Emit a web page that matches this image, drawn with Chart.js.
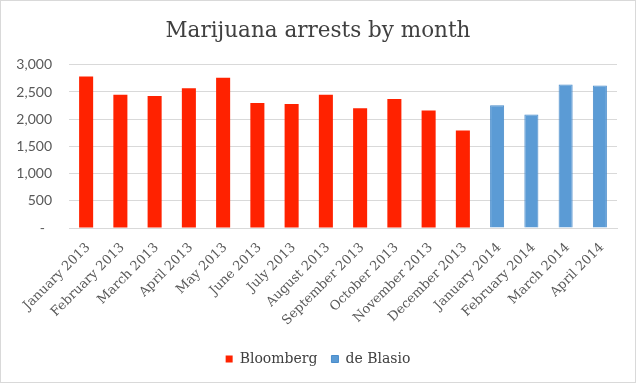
<!DOCTYPE html>
<html>
<head>
<meta charset="utf-8">
<script src="https://cdn.jsdelivr.net/npm/chart.js@4"></script>
<style>
	html, body { margin: 0; padding: 0; background: #fff; }
	#wrap { position: relative; width: 636px; height: 383px; }
	#frame { position: absolute; left: 0; top: 0; width: 636px; height: 383px; box-sizing: border-box; border: 1px solid #d9d9d9; pointer-events: none; }
</style>
</head>
<body>
<div id="wrap">
	<canvas id="arrests-chart"></canvas>
	<div id="frame"></div>
</div>
<script>
const months = [
	"January 2013", "February 2013", "March 2013", "April 2013", "May 2013", "June 2013",
	"July 2013", "August 2013", "September 2013", "October 2013", "November 2013", "December 2013",
	"January 2014", "February 2014", "March 2014", "April 2014",
];
const bloomberg = [2786, 2451, 2427, 2567, 2762, 2299, 2281, 2451, 2201, 2372, 2158, 1793, null, null, null, null];
const deBlasio = [null, null, null, null, null, null, null, null, null, null, null, null, 2256, 2085, 2640, 2621];
const yTicks = [0, 500, 1000, 1500, 2000, 2500, 3000];

const serif = "'DejaVu Serif', 'Liberation Serif', serif";
const greyText = "#595959";

Chart.defaults.font.family = serif;

const ctx = document.getElementById("arrests-chart");

const arrestsChart = new Chart(ctx, {
	type: "bar",
	data: {
		labels: months,
		datasets: [
			{
				label: "Bloomberg",
				data: bloomberg,
				backgroundColor: "#ff2200",
				borderColor: "#ff2200",
				borderWidth: 0,
				grouped: false,
				categoryPercentage: 1,
				barPercentage: 0.41,
			},
			{
				label: "de Blasio",
				data: deBlasio,
				backgroundColor: "#5b9bd5",
				borderColor: "#4a8ccb",
				borderWidth: 1,
				grouped: false,
				categoryPercentage: 1,
				barPercentage: 0.41,
			},
		],
	},
	options: {
		responsive: true,
		maintainAspectRatio: false,
		animation: false,
		layout: {
			padding: { left: 0, right: 0, top: 0, bottom: 7 },
		},
		scales: {
			x: {
				grid: { display: false, drawTicks: false },
				border: { display: true, color: "#d9d9d9", width: 1 },
				ticks: {
					minRotation: 45,
					maxRotation: 45,
					autoSkip: false,
					padding: 12,
					labelOffset: 2,
					color: greyText,
					font: { family: serif, size: 13 },
				},
				afterFit: (scale) => {
					scale.height = 110;
				},
			},
			y: {
				min: 0,
				max: 3000,
				afterBuildTicks: (scale) => {
					scale.ticks = yTicks.map((v) => ({ value: v }));
				},
				grid: { color: "#d9d9d9", lineWidth: 1, drawTicks: false },
				border: { display: false },
				ticks: {
					padding: 17,
					color: greyText,
					font: { family: "Lato, 'Liberation Sans', sans-serif", size: 14 },
					callback: (v) => (v === 0 ? "-  " : v.toLocaleString("en-US")),
				},
				afterFit: (scale) => {
					scale.width = 69;
				},
			},
			// empty right-hand strip, keeps title and legend centred on the whole frame
			spacer: {
				type: "linear",
				position: "right",
				grid: { display: false, drawTicks: false },
				border: { display: false },
				ticks: { display: false },
				afterFit: (scale) => {
					scale.width = 19;
				},
			},
		},
		plugins: {
			title: {
				display: true,
				text: "Marijuana arrests by month",
				color: "#404040",
				font: { family: serif, size: 21.5, weight: "normal" },
				padding: { top: 19, bottom: 20 },
			},
			legend: {
				display: true,
				position: "bottom",
				labels: {
					boxWidth: 7,
					boxHeight: 7,
					color: "#404040",
					font: { family: serif, size: 14 },
					padding: 14,
				},
			},
			tooltip: { enabled: false },
		},
	},
});
</script>
</body>
</html>
